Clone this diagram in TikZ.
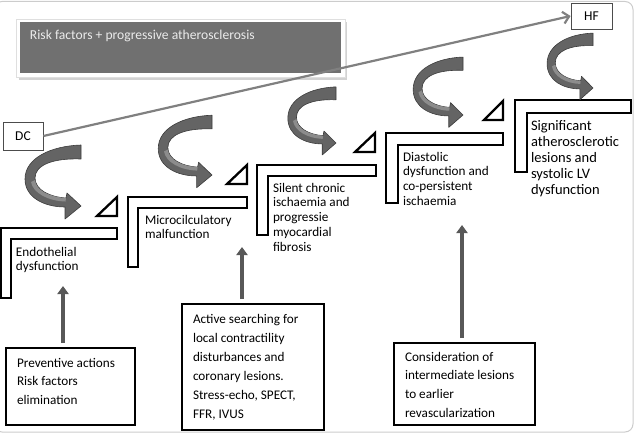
\documentclass[tikz,border=0pt]{standalone}
\usepackage{fontspec}
\setmainfont{Carlito}
\usetikzlibrary{arrows.meta,calc}
\definecolor{arrfill}{RGB}{100,100,100}
\definecolor{arrline}{RGB}{60,60,60}
\definecolor{arrlight}{RGB}{140,140,140}
\definecolor{bannerfill}{RGB}{112,112,112}
\definecolor{bannertext}{RGB}{235,235,235}
\definecolor{longline}{RGB}{128,128,128}
\definecolor{uparr}{RGB}{88,88,88}
\newcommand\mytbox[4]{\parbox[t]{#1pt}{\fontsize{#2}{#3}\selectfont\raggedright #4}}
\tikzset{
  curvarrow/.pic={
    \filldraw[fill=arrfill, draw=arrline, line width=0.6pt, line join=round]
      (0,-61) .. controls (-30,-60) and (-56,-48) .. (-56,-27)
      .. controls (-56,-8) and (-36,1) .. (-16,1)
      -- (-16,13) -- (0,0) -- (-14,-13) -- (-15,-8)
      .. controls (-31,-9) and (-46,-16) .. (-46,-28)
      .. controls (-46,-41) and (-28,-48) .. (0,-47) -- cycle;
    \fill[arrlight]
      (-46,-26) .. controls (-45,-15) and (-31,-9) .. (-15,-8)
      -- (-15.5,-4.5) .. controls (-33,-5) and (-48,-13) .. (-50,-24) -- cycle;
  }
}
\begin{document}
\begin{tikzpicture}[x=1pt,y=-1pt,
  stepL/.style={draw=black, line width=2.3pt, fill=white, line join=miter},
  tri/.style={draw=black, line width=2.3pt, fill=white, line join=miter},
  txt/.style={anchor=base west, inner sep=0pt, outer sep=0pt},
  boxn/.style={draw=black, line width=2.3pt, fill=white, anchor=north west, inner sep=0pt, outer sep=0pt},
  tagbox/.style={draw=black!70, line width=0.8pt, fill=white, inner sep=0pt, font=\fontsize{13.5}{15}\selectfont},
  uparrow/.style={draw=uparr, line width=3.6pt, -{Triangle[length=8pt,width=11pt]}, shorten <=5pt},
  longarrow/.style={draw=longline, line width=2.2pt, -{Straight Barb[length=6pt,width=12pt]}}
]
\useasboundingbox (0,0) rectangle (638,436);
% frame
\draw[gray!40, line width=1pt, rounded corners=8pt] (-6,1.5) rectangle (633,432);

% banner
\fill[gray!35] (19,22) rectangle (347,80);
\fill[white] (16,19) rectangle (345,77);
\draw[gray!25, line width=0.5pt] (16,19) rectangle (345,77);
\node[fill=bannerfill, minimum width=321pt, minimum height=51pt, anchor=north west, inner sep=0pt, outer sep=0pt] (banner) at (20,22) {};
\node[txt, text=bannertext, font=\fontsize{13.6}{16}\selectfont] (bannertxt) at (30,39.5) {Risk factors + progressive atherosclerosis};

% steps
\draw[stepL] (1,228) -- (117,228) -- (117,239) -- (11,239) -- (11,298) -- (1,298) -- cycle;
\draw[stepL] (128,197) -- (247,197) -- (247,208) -- (138,208) -- (138,267) -- (128,267) -- cycle;
\draw[stepL] (257,165) -- (376,165) -- (376,176) -- (268,176) -- (268,235) -- (257,235) -- cycle;
\draw[stepL] (386,133) -- (503,133) -- (503,145) -- (398,145) -- (398,203) -- (386,203) -- cycle;
\draw[stepL] (515,100) -- (631,100) -- (631,113) -- (527,113) -- (527,172) -- (515,172) -- cycle;

% triangles
\draw[tri] (97,216) -- (117,216) -- (117,197) -- cycle;
\draw[tri] (227,184) -- (247,184) -- (247,165) -- cycle;
\draw[tri] (355,152) -- (375,152) -- (375,133) -- cycle;
\draw[tri] (484,120) -- (503,120) -- (503,101) -- cycle;

% curved arrows
\pic at (81,206) {curvarrow};
\pic[xscale=0.96, yscale=0.98] at (212,175) {curvarrow};
\pic[xscale=0.86, yscale=0.92] at (336,143) {curvarrow};
\pic[xscale=0.89, yscale=0.95] at (463,115) {curvarrow};
\pic[xscale=0.82, yscale=0.9] at (593,88) {curvarrow};

% step texts
\node[txt] (t1) at (16,256) {\mytbox{100}{13.2}{14.5}{Endothelial\\dysfunction}};
\node[txt] (t2) at (145,224) {\mytbox{100}{13.2}{14}{Microcilculatory\\malfunction}};
\node[txt] (t3) at (273,192) {\mytbox{100}{13.2}{14.8}{Silent chronic\\ischaemia and\\progressie\\myocardial\\fibrosis}};
\node[txt] (t4) at (403,161) {\mytbox{100}{13.2}{14.7}{Diastolic\\dysfunction and\\co-persistent\\ischaemia}};
\node[txt] (t5) at (531,131) {\mytbox{100}{14.5}{16}{Significant\\atherosclerotic\\lesions and\\systolic LV\\dysfunction}};

% DC and HF
\node[tagbox, minimum width=40pt, minimum height=28pt] (dc) at (23,136) {DC};
\node[tagbox, minimum width=41pt, minimum height=26pt] (hf) at (591.5,16) {HF};
\draw[longarrow] (dc.east) -- (hf.west);

% bottom boxes
\node[boxn, minimum width=129pt, minimum height=77pt] (bA) at (6,348) {};
\node[txt] (tA) at (17,367) {\mytbox{120}{13.2}{18.6}{Preventive actions\\Risk factors\\elimination}};
\node[boxn, minimum width=142pt, minimum height=126pt] (bB) at (182,304) {};
\node[txt] (tB) at (193,323) {\mytbox{135}{13.2}{19}{Active searching for\\local contractility\\disturbances and\\coronary lesions.\\Stress-echo, SPECT,\\FFR, IVUS}};
\node[boxn, minimum width=141pt, minimum height=82pt] (bC) at (394,343) {};
\node[txt] (tC) at (405,361) {\mytbox{135}{13.2}{18.7}{Consideration of\\intermediate lesions\\to earlier\\revascularization}};

% up arrows
\coordinate (upA) at (63,286);
\coordinate (upB) at (242,247);
\coordinate (upC) at (462,225);
\draw[uparrow] (upA |- bA.north) -- (upA);
\draw[uparrow] (upB |- bB.north) -- (upB);
\draw[uparrow] (upC |- bC.north) -- (upC);
\end{tikzpicture}
\end{document}
